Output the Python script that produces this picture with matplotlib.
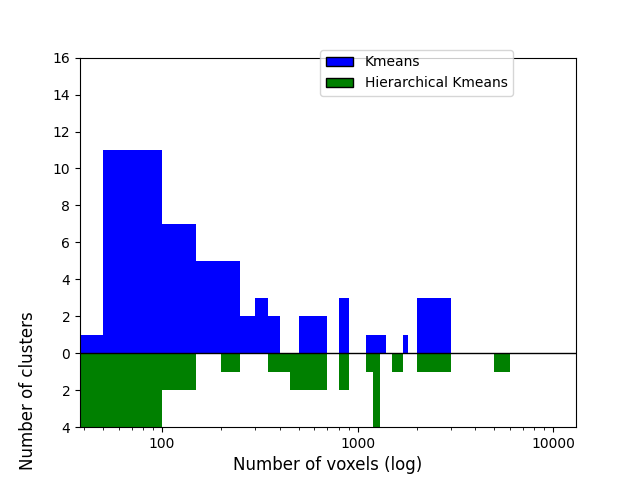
import matplotlib
matplotlib.use("Agg")
import matplotlib.pyplot as plt
from matplotlib.patches import Patch
import numpy as np

# Bin edges (number of voxels)
bin_edges = [0, 50, 100, 150, 200, 250, 300, 350, 400, 450, 500,
             600, 700, 800, 900, 1000, 1100, 1200, 1300, 1400, 1500,
             1600, 1700, 1800, 1900, 2000, 3000, 4000, 5000, 6000, 10000]
# Counts per bin
kmeans_counts = [1, 11, 7, 5, 5, 2, 3, 2, 0, 0,
                 2, 2, 0, 3, 0, 0, 1, 1, 1, 0,
                 0, 0, 1, 0, 0, 3, 0, 0, 0, 0]
hier_counts = [4, 4, 2, 0, 1, 0, 0, 1, 1, 2,
               2, 2, 0, 2, 0, 0, 1, 4, 0, 0,
               1, 1, 0, 0, 0, 1, 0, 0, 1, 0]
series_labels = ["Kmeans", "Hierarchical Kmeans"]
y_ticks = [-4, -2, 0, 2, 4, 6, 8, 10, 12, 14, 16]

edges = np.array(bin_edges, dtype=float)
lefts = edges[:-1]
widths = np.diff(edges)
k = np.array(kmeans_counts)
h = np.array(hier_counts)

fig, ax = plt.subplots(figsize=(6.4, 4.8), dpi=100)
ax.set_xscale("log")
ax.bar(lefts, k, width=widths, align="edge", color="blue", linewidth=0)
ax.bar(lefts, -h, width=widths, align="edge", color="green", linewidth=0)
ax.axhline(0, color="black", linewidth=1)

ax.set_xlim(38.1, 13060)
ax.set_ylim(-4, 16)
ax.set_yticks(y_ticks)
ax.set_yticklabels([str(abs(t)) for t in y_ticks])
ax.set_xticks([100, 1000, 10000])
ax.set_xticklabels(["100", "1000", "10000"])

ax.set_xlabel("Number of voxels (log)", fontsize=12)
ax.set_ylabel("Number of clusters", fontsize=12)
ax.yaxis.set_label_coords(-0.087, 0.098)

handles = [Patch(facecolor="blue", edgecolor="black", label=series_labels[0]),
           Patch(facecolor="green", edgecolor="black", label=series_labels[1])]
ax.legend(handles=handles, loc="upper right", bbox_to_anchor=(0.887, 1.04))

fig.savefig("out.png", dpi=100)
